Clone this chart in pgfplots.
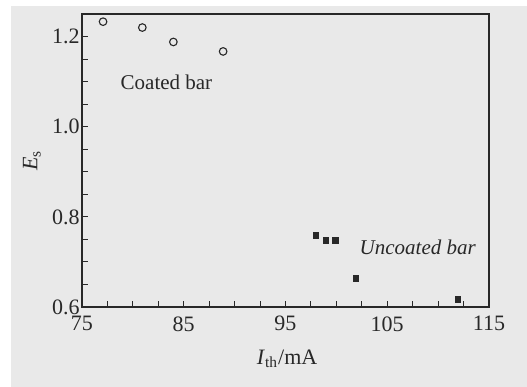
\documentclass[border=0pt]{standalone}
\usepackage{pgfplots}
\pgfplotsset{compat=1.18}
\usepackage{fontspec}
\setmainfont{Liberation Serif}
\definecolor{bg}{RGB}{233,233,233}
\definecolor{ink}{RGB}{40,40,40}
\begin{document}
\fontsize{10.5}{12}\selectfont
\begin{tikzpicture}
\useasboundingbox (0,0) rectangle (263.5pt,193.5pt);
\fill[white] (0,0) rectangle (263.5pt,193.5pt);
\fill[bg] (5.5pt,0) rectangle (263.5pt,190.5pt);
\begin{axis}[
  at={(41pt,40pt)}, anchor=south west,
  width=203.5pt, height=146.5pt, scale only axis,
  xmin=75, xmax=115, ymin=0.6, ymax=1.25,
  xtick={75,85,95,105,115},
  ytick={0.6,0.8,1.0,1.2},
  minor x tick num=3, minor y tick num=3,
  xtick pos=bottom, ytick pos=left,
  tick align=inside,
  major tick length=3pt, minor tick length=2.8pt,
  axis line style={ink, line width=0.6pt},
  every tick/.style={ink, line width=0.5pt},
  tick label style={font=\fontsize{11}{12}\selectfont, text=ink},
  /pgf/number format/assume math mode=true,
  yticklabel style={/pgf/number format/.cd, fixed, fixed zerofill, precision=1, /tikz/.cd, xshift=2.5pt},
  xticklabel style={yshift=-1pt},
  xlabel={\textit{I}\textsubscript{th}/mA},
  ylabel={\textit{E}\textsubscript{s}},
  label style={font=\fontsize{11}{12}\selectfont, text=ink},
  xlabel style={at={(axis description cs:0.504,-0.176)}, anchor=center},
  ylabel style={at={(axis description cs:-0.123,0.5)}, anchor=center},
  clip=false,
]
\addplot[only marks, mark=o, mark size=1.9pt, ink, mark options={line width=0.55pt}] coordinates {
  (77.07,1.233) (80.93,1.220) (83.98,1.188) (88.87,1.167)
};
\addplot[only marks, mark=square*, mark size=1.45pt, ink] coordinates {
  (97.98,0.759) (98.97,0.748) (99.92,0.747) (101.92,0.663) (111.95,0.616)
};
\node[text=ink] at (axis cs:83.3,1.099) {Coated bar};
\node[text=ink] at (axis cs:108.0,0.732) {\textit{Uncoated bar}};
\end{axis}
\end{tikzpicture}
\end{document}
